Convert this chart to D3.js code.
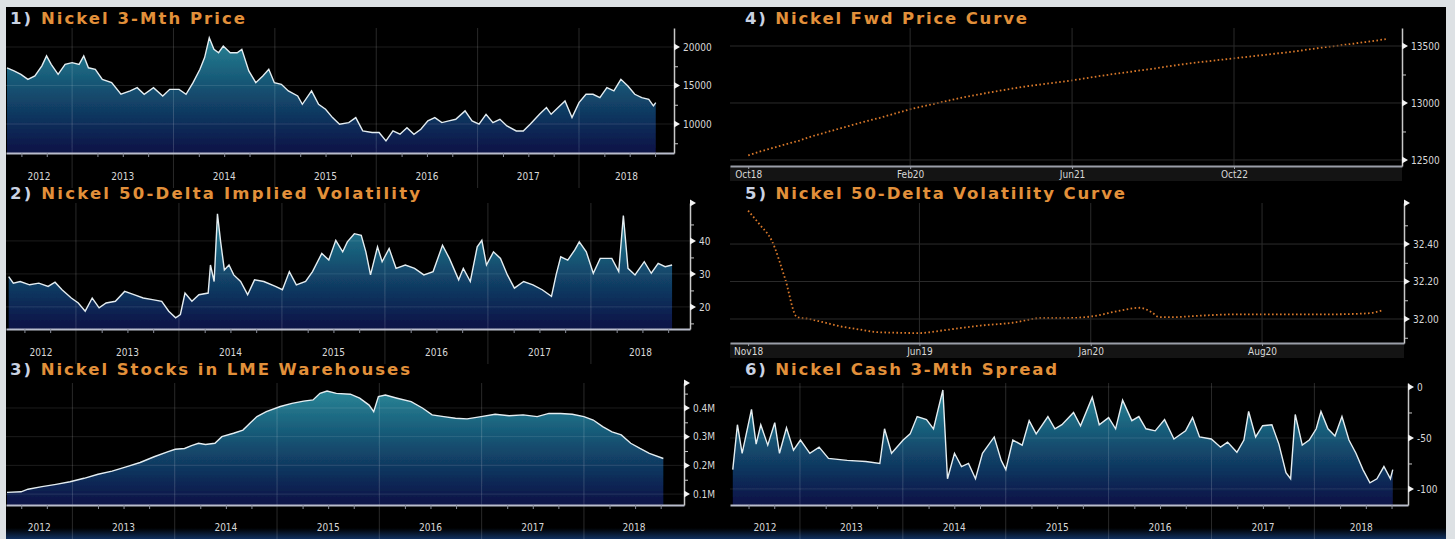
<!DOCTYPE html>
<html>
<head>
<meta charset="utf-8">
<title>Nickel dashboard</title>
<script src="https://cdnjs.cloudflare.com/ajax/libs/d3/7.8.5/d3.min.js"></script>
<style>
  body { margin: 0; background: #dde1e4; }
  svg { display: block; }
  .ylab, .xlab { font-family: 'Liberation Sans Narrow', 'DejaVu Sans Condensed', sans-serif; font-size: 10px; fill: #d8d8d8; }
  .title { font-family: 'DejaVu Sans', sans-serif; font-weight: bold; font-size: 16.5px; }
</style>
</head>
<body>
<div id="chart"></div>
<script>
const W = 1455, H = 539;

// 1) Nickel 3-Mth Price (x = decimal year, USD/t)
const priceYears = [2012.358, 2012.427, 2012.495, 2012.564, 2012.633, 2012.702, 2012.748, 2012.794, 2012.862, 2012.931,
  2013.000, 2013.069, 2013.115, 2013.161, 2013.229, 2013.298, 2013.390, 2013.482, 2013.573, 2013.642,
  2013.711, 2013.803, 2013.894, 2013.963, 2014.055, 2014.124, 2014.193, 2014.261, 2014.307, 2014.353,
  2014.399, 2014.445, 2014.491, 2014.560, 2014.628, 2014.674, 2014.743, 2014.812, 2014.881, 2014.940,
  2014.995, 2015.064, 2015.133, 2015.225, 2015.271, 2015.362, 2015.431, 2015.500, 2015.569, 2015.638,
  2015.729, 2015.798, 2015.867, 2015.959, 2016.028, 2016.096, 2016.165, 2016.234, 2016.303, 2016.372,
  2016.440, 2016.509, 2016.578, 2016.647, 2016.716, 2016.784, 2016.876, 2016.945, 2017.014, 2017.083,
  2017.151, 2017.220, 2017.289, 2017.381, 2017.450, 2017.518, 2017.610, 2017.679, 2017.725, 2017.794,
  2017.862, 2017.931, 2018.000, 2018.069, 2018.138, 2018.206, 2018.275, 2018.344, 2018.413, 2018.482,
  2018.550, 2018.619, 2018.688, 2018.734, 2018.757];
const priceValues = [17300, 16900, 16450, 15800, 16250, 17550, 18850, 17750, 16450, 17750,
  17970, 17750, 18850, 17300, 17100, 15800, 15370, 13860, 14300, 14720,
  13860, 14720, 13640, 14500, 14500, 13860, 15370, 17100, 18620, 21200,
  19700, 19260, 20130, 19260, 19260, 19700, 16890, 15370, 16240, 17100,
  15370, 15150, 14300, 13640, 12560, 14300, 12560, 11910, 10830, 9970,
  10180, 10830, 9100, 8890, 8890, 7800, 9100, 8670, 9530, 8670,
  9320, 10400, 10830, 10180, 10400, 10610, 11700, 10400, 9970, 11260,
  10180, 10610, 9750, 9100, 9100, 9970, 11260, 12130, 11260, 12130,
  13000, 10830, 12780, 13860, 13860, 13430, 14720, 14300, 15800, 14940,
  13860, 13430, 13210, 12350, 12780];

// 2) Nickel 50-Delta Implied Volatility (%)
const volYears = [2012.347, 2012.392, 2012.459, 2012.550, 2012.640, 2012.730, 2012.797, 2012.865, 2012.955, 2013.023,
  2013.090, 2013.158, 2013.225, 2013.293, 2013.383, 2013.473, 2013.563, 2013.653, 2013.743, 2013.833,
  2013.901, 2013.968, 2014.014, 2014.059, 2014.126, 2014.194, 2014.284, 2014.306, 2014.342, 2014.374,
  2014.405, 2014.441, 2014.486, 2014.532, 2014.599, 2014.667, 2014.734, 2014.824, 2014.937, 2015.005,
  2015.072, 2015.140, 2015.230, 2015.297, 2015.387, 2015.455, 2015.523, 2015.590, 2015.635, 2015.703,
  2015.770, 2015.815, 2015.860, 2015.928, 2015.973, 2016.041, 2016.108, 2016.198, 2016.288, 2016.378,
  2016.468, 2016.559, 2016.626, 2016.716, 2016.761, 2016.829, 2016.896, 2016.941, 2016.986, 2017.054,
  2017.122, 2017.189, 2017.257, 2017.347, 2017.437, 2017.527, 2017.617, 2017.662, 2017.707, 2017.775,
  2017.842, 2017.887, 2017.955, 2018.023, 2018.090, 2018.203, 2018.270, 2018.315, 2018.360, 2018.428,
  2018.518, 2018.586, 2018.653, 2018.721, 2018.788];
const volValues = [29.2, 27.2, 27.7, 26.7, 27.2, 26.2, 27.5, 25.2, 22.7, 21.2,
  18.7, 22.7, 19.7, 21.2, 21.7, 24.7, 23.7, 22.7, 22.2, 21.7,
  18.7, 16.7, 17.7, 24.2, 21.7, 23.7, 24.2, 32.7, 27.7, 48.2,
  39.7, 31.2, 32.7, 29.7, 27.7, 23.7, 28.2, 27.7, 26.2, 25.2,
  30.7, 26.7, 27.7, 30.7, 36.2, 34.2, 40.2, 36.7, 39.7, 42.2,
  41.7, 36.7, 29.7, 38.2, 33.7, 37.7, 31.7, 32.7, 31.7, 29.7,
  30.7, 38.7, 34.7, 28.2, 31.7, 27.7, 38.2, 40.2, 32.7, 36.7,
  34.7, 29.7, 25.7, 27.7, 26.7, 25.2, 23.2, 29.7, 35.2, 34.2,
  37.2, 39.7, 36.7, 30.2, 34.7, 34.7, 30.7, 47.7, 31.7, 29.7,
  33.7, 30.2, 33.2, 32.2, 32.7];

// 3) Nickel Stocks in LME Warehouses (million tonnes)
const stockYears = [2012.361, 2012.498, 2012.566, 2012.703, 2012.840, 2012.977, 2013.114, 2013.251, 2013.388, 2013.525,
  2013.662, 2013.799, 2013.936, 2014.005, 2014.096, 2014.164, 2014.233, 2014.301, 2014.393, 2014.461,
  2014.575, 2014.667, 2014.735, 2014.804, 2014.895, 2015.032, 2015.146, 2015.260, 2015.352, 2015.420,
  2015.489, 2015.580, 2015.717, 2015.808, 2015.900, 2015.945, 2015.991, 2016.059, 2016.174, 2016.311,
  2016.425, 2016.516, 2016.630, 2016.744, 2016.858, 2016.995, 2017.132, 2017.269, 2017.406, 2017.543,
  2017.658, 2017.772, 2017.886, 2018.000, 2018.091, 2018.183, 2018.274, 2018.365, 2018.457, 2018.548,
  2018.639, 2018.776];
const stockValues = [0.106, 0.108, 0.117, 0.126, 0.134, 0.143, 0.155, 0.169, 0.180, 0.195,
  0.210, 0.230, 0.248, 0.256, 0.259, 0.269, 0.277, 0.273, 0.277, 0.300,
  0.312, 0.323, 0.347, 0.370, 0.387, 0.405, 0.416, 0.424, 0.428, 0.451,
  0.459, 0.451, 0.448, 0.434, 0.410, 0.387, 0.440, 0.445, 0.434, 0.422,
  0.399, 0.376, 0.370, 0.364, 0.362, 0.370, 0.378, 0.373, 0.376, 0.370,
  0.381, 0.381, 0.378, 0.370, 0.358, 0.335, 0.317, 0.306, 0.277, 0.259,
  0.242, 0.224];

// 4) Nickel Fwd Price Curve, one value per monthly prompt from Oct18
const fwdValues = [12540, 12570, 12595, 12620, 12645, 12668, 12700, 12725, 12750, 12775,
  12800, 12825, 12848, 12870, 12895, 12920, 12945, 12965, 12985, 13005,
  13025, 13045, 13062, 13078, 13095, 13110, 13125, 13140, 13152, 13163,
  13175, 13186, 13198, 13212, 13226, 13240, 13253, 13265, 13277, 13289,
  13300, 13315, 13328, 13340, 13352, 13362, 13372, 13382, 13392, 13402,
  13412, 13422, 13432, 13442, 13453, 13465, 13478, 13490, 13500, 13512,
  13523, 13535, 13547, 13560];
const fwdTickMonths = [0, 16, 32, 48];
const fwdTickLabels = ["Oct18", "Feb20", "Jun21", "Oct22"];

// 5) Nickel 50-Delta Volatility Curve (months after Nov18, vol %)
const volCurveMonths = [0, 0.5, 0.96, 1.5, 2.0, 2.5, 3.0, 3.8, 4.5, 5.3, 6.0, 7.0, 8.0, 9.5, 10.8,
  12.0, 13.0, 14.1, 15.2, 16.0, 16.5, 16.8, 17.4, 18.1, 20, 22, 23.8, 25.3, 25.9];
const volCurveValues = [32.578, 32.50, 32.42, 32.22, 32.01, 32.0, 31.985, 31.96, 31.945, 31.93, 31.927, 31.925, 31.94, 31.965, 31.98,
  32.005, 32.005, 32.015, 32.045, 32.06, 32.035, 32.01, 32.01, 32.015, 32.025, 32.025, 32.025, 32.03, 32.045];
const volCurveTickMonths = [0, 7, 14, 21];
const volCurveTickLabels = ["Nov18", "Jun19", "Jan20", "Aug20"];

// 6) Nickel Cash 3-Mth Spread (USD/t)
const spreadYears = [2012.347, 2012.392, 2012.438, 2012.529, 2012.574, 2012.619, 2012.687, 2012.755, 2012.801, 2012.869,
  2012.937, 2013.005, 2013.096, 2013.186, 2013.277, 2013.459, 2013.640, 2013.776, 2013.822, 2013.890,
  2014.003, 2014.071, 2014.139, 2014.230, 2014.298, 2014.343, 2014.389, 2014.434, 2014.502, 2014.570,
  2014.638, 2014.706, 2014.774, 2014.888, 2014.956, 2015.001, 2015.069, 2015.160, 2015.228, 2015.296,
  2015.410, 2015.478, 2015.546, 2015.659, 2015.727, 2015.841, 2015.909, 2016.000, 2016.068, 2016.136,
  2016.226, 2016.294, 2016.363, 2016.453, 2016.544, 2016.635, 2016.748, 2016.816, 2016.884, 2016.998,
  2017.088, 2017.156, 2017.247, 2017.315, 2017.361, 2017.429, 2017.497, 2017.587, 2017.655, 2017.724,
  2017.769, 2017.814, 2017.882, 2017.950, 2018.018, 2018.064, 2018.132, 2018.200, 2018.268, 2018.336,
  2018.404, 2018.472, 2018.540, 2018.608, 2018.676, 2018.739, 2018.762];
const spreadValues = [-81, -37, -65, -22, -56, -37, -57, -35, -65, -40,
  -62, -52, -65, -59, -70, -72, -73, -75, -41, -65,
  -52, -46, -29, -32, -41, -22, -3, -90, -65, -78,
  -75, -90, -65, -49, -72, -81, -52, -57, -33, -46,
  -29, -41, -37, -25, -38, -10, -37, -30, -41, -13,
  -33, -29, -41, -43, -32, -51, -43, -30, -49, -51,
  -59, -54, -64, -52, -24, -49, -38, -37, -56, -84,
  -90, -27, -57, -52, -41, -24, -41, -48, -29, -52,
  -65, -81, -94, -90, -78, -90, -81];

const yearLabels = [2012, 2013, 2014, 2015, 2016, 2017, 2018];

const svg = d3.select("#chart").append("svg")
    .attr("width", W)
    .attr("height", H);
const defs = svg.append("defs");

defs.append("filter").attr("id", "soft")
    .append("feGaussianBlur").attr("stdDeviation", 0.45);

// light frame + black terminal screen
svg.append("rect").attr("width", W).attr("height", H).attr("fill", "#dde1e4");
svg.append("rect").attr("x", 6).attr("y", 7).attr("width", 1440).attr("height", H - 7).attr("fill", "#000");

// navy strip along the bottom edge
const bottomGrad = defs.append("linearGradient").attr("id", "bottomGrad")
    .attr("x1", 0).attr("x2", 0).attr("y1", 0).attr("y2", 1);
bottomGrad.append("stop").attr("offset", "0%").attr("stop-color", "#000");
bottomGrad.append("stop").attr("offset", "100%").attr("stop-color", "#10305f");
svg.append("rect").attr("x", 6).attr("y", 528).attr("width", 1440).attr("height", 11).attr("fill", "url(#bottomGrad)");

const panels = [
  { num: "1)", title: "Nickel 3-Mth Price", tx: 10, ty: 24, tw: 235,
    x0: 6, x1: 674, y0: 28, y1: 153, xDomain: [2012.348, 2018.937], yDomain: [6234, 22468],
    major: [10000, 15000, 20000], minor: [7500, 12500, 17500], fmt: d => d,
    kind: "area", xs: priceYears, ys: priceValues, labelY: 180 },
  { num: "2)", title: "Nickel 50-Delta Implied Volatility", tx: 10, ty: 199, tw: 410,
    x0: 6, x1: 690, y0: 203, y1: 329, xDomain: [2012.321, 2018.962], yDomain: [13.3, 51.5],
    major: [20, 30, 40], minor: [15, 25, 35, 45], fmt: d => d, topMarker: true,
    kind: "area", xs: volYears, ys: volValues, labelY: 356 },
  { num: "3)", title: "Nickel Stocks in LME Warehouses", tx: 10, ty: 375, tw: 400,
    x0: 6, x1: 684, y0: 383, y1: 505, xDomain: [2012.351, 2018.978], yDomain: [0.062, 0.487],
    major: [0.1, 0.2, 0.3, 0.4], minor: [0.15, 0.25, 0.35, 0.45], fmt: d => d.toFixed(1) + "M", topMarker: true,
    kind: "area", xs: stockYears, ys: stockValues, labelY: 531 },
  { num: "4)", title: "Nickel Fwd Price Curve", tx: 745, ty: 24, tw: 282,
    x0: 730, x1: 1402, y0: 28, y1: 166, xDomain: [-1.8, 64.6], yDomain: [12447, 13658],
    major: [12500, 13000, 13500], minor: [12750, 13250], fmt: d => d,
    kind: "dots", xs: d3.range(fwdValues.length), ys: fwdValues, curve: d3.curveLinear,
    ticks: fwdTickMonths, tickLabels: fwdTickLabels, labelY: 178 },
  { num: "5)", title: "Nickel 50-Delta Volatility Curve", tx: 745, ty: 199, tw: 380,
    x0: 730, x1: 1404, y0: 203, y1: 343, xDomain: [-0.74, 26.8], yDomain: [31.872, 32.619],
    major: [32.0, 32.2, 32.4], minor: [31.9, 32.1, 32.3, 32.5], fmt: d => d.toFixed(2), topMarker: true,
    kind: "dots", xs: volCurveMonths, ys: volCurveValues, curve: d3.curveMonotoneX,
    ticks: volCurveTickMonths, tickLabels: volCurveTickLabels, labelY: 356 },
  { num: "6)", title: "Nickel Cash 3-Mth Spread", tx: 745, ty: 375, tw: 312,
    x0: 730, x1: 1408, y0: 383, y1: 505, xDomain: [2012.32, 2018.91], yDomain: [-115.7, 3.9],
    major: [-100, -50, 0], minor: [-75, -25], fmt: d => d,
    kind: "area", xs: spreadYears, ys: spreadValues, labelY: 531 }
];

panels.forEach((p, i) => drawPanel(p, i));

function drawPanel(p, i) {
  const g = svg.append("g");
  const x = d3.scaleLinear().domain(p.xDomain).range([p.x0, p.x1]);
  const y = d3.scaleLinear().domain(p.yDomain).range([p.y1, p.y0]);
  const data = p.xs.map((d, k) => [d, p.ys[k]]);

  // title
  const t = g.append("text").attr("class", "title")
      .attr("x", p.tx).attr("y", p.ty)
      .attr("textLength", p.tw).attr("lengthAdjust", "spacing");
  t.append("tspan").attr("fill", "#c9d2e2").text(p.num + " ");
  t.append("tspan").attr("fill", "#e2903a").text(p.title);

  const marks = g.append("g").attr("filter", "url(#soft)");

  if (p.kind == "area") {
    const grad = defs.append("linearGradient").attr("id", "fill" + i)
        .attr("gradientUnits", "userSpaceOnUse")
        .attr("x1", 0).attr("x2", 0).attr("y1", p.y0).attr("y2", p.y1);
    grad.append("stop").attr("offset", "0%").attr("stop-color", "#2d8d9c");
    grad.append("stop").attr("offset", "45%").attr("stop-color", "#155574");
    grad.append("stop").attr("offset", "100%").attr("stop-color", "#0a1146");

    const area = d3.area()
        .x(d => x(d[0]))
        .y0(p.y1)
        .y1(d => y(d[1]));
    marks.append("path").datum(data)
        .attr("d", area)
        .attr("fill", "url(#fill" + i + ")");

    // horizontal grid over the fill
    marks.selectAll(null).data(p.major).join("line")
        .attr("x1", p.x0).attr("x2", p.x1)
        .attr("y1", d => y(d)).attr("y2", d => y(d))
        .attr("stroke", "rgba(255,255,255,0.11)");

    // year separators
    const years = d3.range(Math.ceil(p.xDomain[0]), Math.floor(p.xDomain[1]) + 1);
    marks.selectAll(null).data(years).join("line")
        .attr("x1", d => x(d)).attr("x2", d => x(d))
        .attr("y1", p.y0).attr("y2", p.labelY + 8)
        .attr("stroke", "rgba(255,255,255,0.16)");

    const line = d3.line()
        .x(d => x(d[0]))
        .y(d => y(d[1]));
    marks.append("path").datum(data)
        .attr("d", line)
        .attr("fill", "none")
        .attr("stroke", "#e4edf1")
        .attr("stroke-width", 1.4);

    // quarterly ticks on the time axis
    const quarters = d3.range(Math.ceil(p.xDomain[0] * 4), Math.floor(p.xDomain[1] * 4) + 1)
        .map(q => q / 4).filter(q => q % 1 != 0);
    const xAxis = d3.axisBottom(x).tickValues(quarters).tickSize(4).tickSizeOuter(0).tickFormat("");
    const ax = g.append("g").attr("transform", `translate(0, ${p.y1})`).call(xAxis);
    ax.select(".domain").attr("stroke", "#b9bdcc").attr("stroke-width", 2);
    ax.selectAll(".tick line").attr("stroke", "#8a8e9a");

    // year labels centred on the visible part of each year
    g.selectAll(null).data(yearLabels).join("text")
        .attr("class", "xlab")
        .attr("x", d => (Math.max(x(d), p.x0) + Math.min(x(d + 1), p.x1)) / 2)
        .attr("y", p.labelY)
        .attr("text-anchor", "middle")
        .text(d => d);
  } else {
    // grid
    g.selectAll(null).data(p.major).join("line")
        .attr("x1", p.x0).attr("x2", p.x1)
        .attr("y1", d => y(d)).attr("y2", d => y(d))
        .attr("stroke", "#2b2b2b");
    g.selectAll(null).data(p.ticks.slice(1)).join("line")
        .attr("x1", d => x(d)).attr("x2", d => x(d))
        .attr("y1", p.y0).attr("y2", p.y1)
        .attr("stroke", "#2b2b2b");

    const line = d3.line()
        .curve(p.curve)
        .x(d => x(d[0]))
        .y(d => y(d[1]));
    marks.append("path").datum(data)
        .attr("d", line)
        .attr("fill", "none")
        .attr("stroke", "#d9782a")
        .attr("stroke-width", 1.8)
        .attr("stroke-dasharray", "1.6 2.4");

    // label band under the axis
    g.append("rect").attr("x", p.x0).attr("y", p.y1).attr("width", p.x1 - p.x0).attr("height", 15)
        .attr("fill", "#141414");
    const xAxis = d3.axisBottom(x).tickValues(p.ticks).tickSize(3).tickSizeOuter(0)
        .tickFormat((d, k) => p.tickLabels[k]).tickPadding(2);
    const ax = g.append("g").attr("transform", `translate(0, ${p.y1})`).call(xAxis);
    ax.select(".domain").attr("stroke", "#9a9ea8").attr("stroke-width", 2);
    ax.selectAll(".tick line").attr("stroke", "#9a9ea8");
    ax.selectAll(".tick text").attr("class", "xlab").attr("fill", null);
  }

  // right-hand value axis
  const yAxis = d3.axisRight(y).tickValues(p.major).tickSize(0).tickSizeOuter(0)
      .tickPadding(9).tickFormat(p.fmt);
  const ay = g.append("g").attr("transform", `translate(${p.x1}, 0)`).call(yAxis);
  ay.select(".domain").attr("stroke", "#c8c8c8").attr("stroke-width", 1.5);
  ay.selectAll(".tick text").attr("class", "ylab").attr("fill", null);

  const yMinor = d3.axisRight(y).tickValues(p.minor).tickSize(4).tickSizeOuter(0).tickFormat("");
  const am = g.append("g").attr("transform", `translate(${p.x1}, 0)`).call(yMinor);
  am.select(".domain").remove();
  am.selectAll(".tick line").attr("stroke", "#c8c8c8");

  // white pointers at the labelled ticks
  const pointers = p.topMarker ? p.major.concat([p.yDomain[1]]) : p.major;
  g.selectAll(null).data(pointers).join("path")
      .attr("d", d => `M${p.x1},${y(d) - 3.5}L${p.x1 + 6},${y(d)}L${p.x1},${y(d) + 3.5}Z`)
      .attr("fill", "#f2f2f2");
}
</script>
</body>
</html>
